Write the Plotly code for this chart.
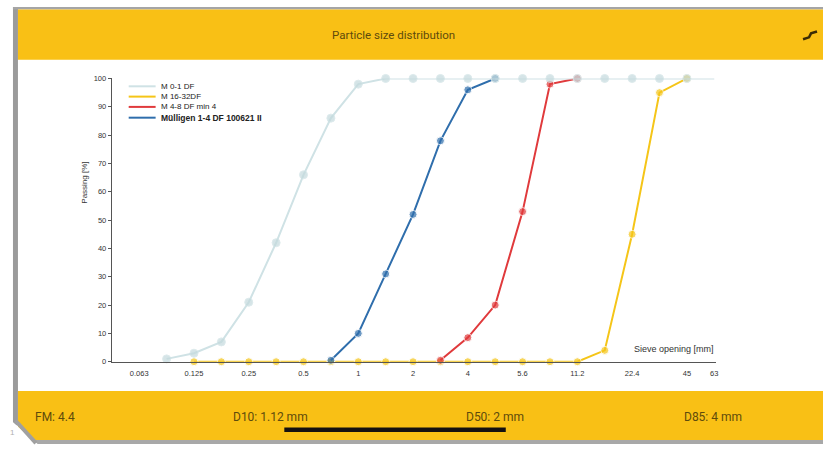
import plotly.graph_objects as go

W, H = 825, 451

# ---- data ----
# x positions are sieve-step indices on the chart's sieve scale
tick_labels = ["0.063", "0.125", "0.25", "0.5", "1", "2", "4", "5.6", "11.2", "22.4", "45", "63"]
tick_steps = [-1, 1, 3, 5, 7, 9, 11, 13, 15, 17, 19, 20]

series_names = ["M 0-1 DF", "M 16-32DF", "M 4-8 DF min 4", "Mülligen 1-4 DF 100621 II"]

m01_steps = list(range(0, 21))
m01_pass = [1, 3, 7, 21, 42, 66, 86, 98, 100, 100, 100, 100, 100, 100, 100, 100, 100, 100, 100, 100, 100]

m1632_steps = list(range(1, 20))
m1632_pass = [0, 0, 0, 0, 0, 0, 0, 0, 0, 0, 0, 0, 0, 0, 0, 4, 45, 95, 100]

m48_steps = list(range(10, 16))
m48_pass = [0.5, 8.5, 20, 53, 98, 100]

mull_steps = list(range(6, 13))
mull_pass = [0.5, 10, 31, 52, 78, 96, 100]

footer_texts = ["FM: 4.4", "D10: 1.12 mm", "D50: 2 mm", "D85: 4 mm"]

# ---- styles ----
YEL = "#f9c015"
colors = ["#cfe2e5", "#f5c518", "#e03a3c", "#2f6eac"]
marker_colors = ["#c4dadd", "#f5c518", "#e03a3c", "#2f6eac"]
TXT = "#5e4b0c"


def px(x):
    return x / W


def py(y):
    return 1 - y / H


fig = go.Figure()

traces = [
    (m1632_steps, m1632_pass, 1),
    (m48_steps, m48_pass, 2),
    (mull_steps, mull_pass, 3),
    (m01_steps, m01_pass, 0),
]
for xs, ys, ci in traces:
    sizes = [8] * len(xs)
    if ci == 0:
        sizes[-1] = 0
    fig.add_trace(go.Scatter(
        x=xs, y=ys, mode="lines+markers", name=series_names[ci],
        line=dict(color=colors[ci], width=2),
        marker=dict(color=marker_colors[ci], size=sizes),
        cliponaxis=False, showlegend=False, hoverinfo="skip",
    ))

shapes = []
# card borders
shapes.append(dict(type="rect", xref="paper", yref="paper", x0=px(13), x1=px(18), y0=py(430), y1=py(3),
                   fillcolor="#9b9b9b", line=dict(width=0), layer="below"))
shapes.append(dict(type="rect", xref="paper", yref="paper", x0=px(13), x1=px(825), y0=py(5.5), y1=py(3),
                   fillcolor="#a5a5a5", line=dict(width=0), layer="below"))
# header bar
shapes.append(dict(type="rect", xref="paper", yref="paper", x0=px(18), x1=px(825), y0=py(57), y1=py(5.5),
                   fillcolor=YEL, line=dict(width=0), layer="below"))
# footer shadow + bar
shapes.append(dict(type="rect", xref="paper", yref="paper", x0=px(30), x1=px(825), y0=py(449), y1=py(444),
                   fillcolor="#a8a8a8", line=dict(width=0), layer="below"))
shapes.append(dict(type="rect", xref="paper", yref="paper", x0=px(18), x1=px(825), y0=py(445), y1=py(395),
                   fillcolor=YEL, line=dict(width=0), layer="below"))
# bottom-left diagonal cut
shapes.append(dict(type="path", xref="paper", yref="paper",
                   path=f"M {px(10)},{py(424)} L {px(10)},{py(451)} L {px(40)},{py(451)} Z",
                   fillcolor="white", line=dict(width=0), layer="below"))
shapes.append(dict(type="line", xref="paper", yref="paper", x0=px(15.5), y0=py(425), x1=px(36), y1=py(448),
                   line=dict(color="#a0a0a0", width=4), layer="below"))
# scroll indicator
shapes.append(dict(type="line", xref="paper", yref="paper", x0=px(285), y0=py(434.5), x1=px(507), y1=py(434.5),
                   line=dict(color="#141010", width=4.5)))
# header icon
shapes.append(dict(type="path", xref="paper", yref="paper",
                   path=f"M {px(805)},{py(36)} L {px(811)},{py(34)} L {px(813)},{py(30)} L {px(819)},{py(28)}",
                   line=dict(color="#3a2c05", width=2.5)))

# legend (manual)
leg_y = [84, 94.5, 105, 116]
annotations = []
for i, name in enumerate(series_names):
    shapes.append(dict(type="line", xref="paper", yref="paper", x0=px(129), x1=px(156), y0=py(leg_y[i]), y1=py(leg_y[i]),
                       line=dict(color=colors[i], width=2)))
    bold = i == 3
    annotations.append(dict(xref="paper", yref="paper", x=px(159), y=py(leg_y[i]), xanchor="left", yanchor="middle",
                            text=f"<b>{name}</b>" if bold else name, showarrow=False,
                            font=dict(family="Arial, Liberation Sans", size=8.5 if bold else 8, color="#222")))

annotations.append(dict(xref="paper", yref="paper", x=px(394), y=py(32), yanchor="middle", text="Particle size distribution",
                        showarrow=False, font=dict(family="Roboto", size=11.5, color=TXT)))
footer_x = [33, 232, 465, 684]
for t, fx in zip(footer_texts, footer_x):
    annotations.append(dict(xref="paper", yref="paper", x=px(fx), y=py(421), xanchor="left", yanchor="middle", text=t,
                            showarrow=False, font=dict(family="Roboto", size=12, color=TXT)))
annotations.append(dict(xref="paper", yref="paper", x=px(718), y=py(352), xanchor="right", yanchor="middle",
                        text="Sieve opening [mm]",
                        showarrow=False, font=dict(family="Arial, Liberation Sans", size=9, color="#333")))
annotations.append(dict(xref="paper", yref="paper", x=px(78), y=py(182), text="Passing [%]", textangle=-90,
                        showarrow=False, font=dict(family="Arial, Liberation Sans", size=8, color="#333")))
annotations.append(dict(xref="paper", yref="paper", x=px(8), y=py(444), text="1",
                        showarrow=False, font=dict(family="Arial", size=8, color="#b0b0b0")))

x0_step = (112 - 167) / 27.45
x1_step = (718 - 167) / 27.45

fig.update_layout(
    width=W, height=H, autosize=False,
    margin=dict(l=0, r=0, t=0, b=0),
    paper_bgcolor="white", plot_bgcolor="white",
    showlegend=False,
    shapes=shapes, annotations=annotations,
    xaxis=dict(domain=[px(112), px(718)], range=[x0_step, x1_step],
               tickmode="array", tickvals=tick_steps, ticktext=tick_labels,
               showgrid=False, zeroline=False, showline=True, linecolor="#555", linewidth=1,
               ticks="outside", ticklen=4, tickcolor="rgba(0,0,0,0)",
               tickfont=dict(family="Arial, Liberation Sans", size=7.5, color="#333"), fixedrange=True),
    yaxis=dict(domain=[py(365), py(76)], range=[0, 100], tickvals=list(range(0, 101, 10)),
               showgrid=False, zeroline=False, showline=True, linecolor="#555", linewidth=1,
               ticks="outside", ticklen=3, tickcolor="#555",
               tickfont=dict(family="Arial, Liberation Sans", size=7.5, color="#333"), fixedrange=True),
)

fig.write_html(
    "out.html", config={"displayModeBar": False},
    post_script=("document.documentElement.style.overflow='hidden';"
                 "document.body.style.margin='0';document.body.style.overflow='hidden';"
                 "var gd=document.getElementById('{plot_id}');gd.style.position='fixed';"
                 "gd.style.left='0';gd.style.top='0';"),
)
